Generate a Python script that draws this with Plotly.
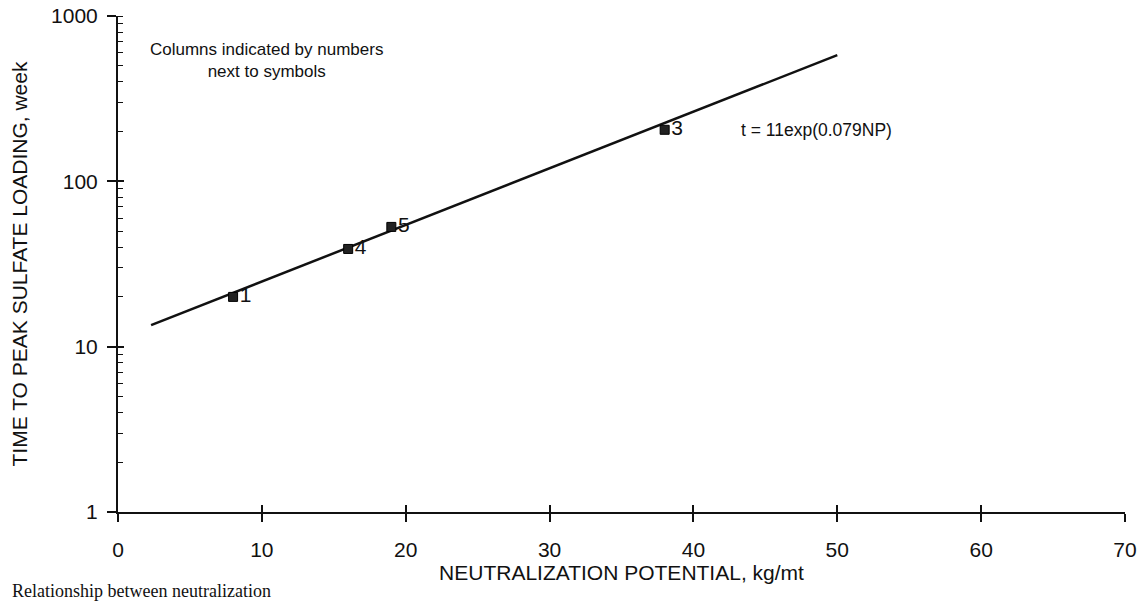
import plotly.graph_objects as go

# Data
np_values = [8, 16, 19, 38]          # neutralization potential, kg/mt
peak_weeks = [20, 39, 53, 205]       # time to peak sulfate loading, week
column_labels = ["1", "4", "5", "3"]

fit_x = [2.3, 50]                    # regression line endpoints
fit_y = [13.5, 580]

x_ticks = [0, 10, 20, 30, 40, 50, 60, 70]
y_ticks = [1, 10, 100, 1000]
y_tick_labels = ["1", "10", "100", "1000"]

FONT = "Liberation Sans, Arial, sans-serif"

fig = go.Figure()

fig.add_trace(go.Scatter(
    x=fit_x, y=fit_y, mode="lines",
    line=dict(color="#111111", width=2.5),
    showlegend=False, hoverinfo="skip",
))

fig.add_trace(go.Scatter(
    x=np_values, y=peak_weeks, mode="markers+text",
    text=column_labels, textposition="middle right",
    textfont=dict(family=FONT, size=21, color="#111111"),
    marker=dict(symbol="square", size=9, color="#222222",
                line=dict(color="#000000", width=1)),
    showlegend=False,
))

# helper trace so the overlaid tick axes are drawn
fig.add_trace(go.Scatter(x=[None], y=[None], xaxis="x2", yaxis="y2",
                         showlegend=False, hoverinfo="skip"))

axis_font = dict(family=FONT, size=21, color="#111111")

fig.update_layout(
    width=1140, height=607,
    margin=dict(l=118, r=15, t=16, b=95),
    paper_bgcolor="white", plot_bgcolor="white",
    font=dict(family=FONT, color="#111111"),
    xaxis=dict(
        range=[0, 70], tickvals=x_ticks, ticktext=[str(v) for v in x_ticks],
        showgrid=False, zeroline=False, automargin=False, ticklabeloverflow="allow",
        showline=True, linecolor="#111111", linewidth=2,
        ticks="outside", ticklen=8, tickwidth=1.5, tickcolor="#111111",
        tickfont=axis_font, ticklabelstandoff=10,
        title=dict(text="NEUTRALIZATION POTENTIAL, kg/mt", font=axis_font, standoff=5),
    ),
    yaxis=dict(
        type="log", range=[0, 3],
        tickvals=y_ticks, ticktext=y_tick_labels,
        showgrid=False, zeroline=False, automargin=False, ticklabeloverflow="allow",
        showline=True, linecolor="#111111", linewidth=2,
        ticks="outside", ticklen=9, tickwidth=1.5, tickcolor="#111111",
        minor=dict(ticks="inside", ticklen=5, tickwidth=1, tickcolor="#111111",
                   showgrid=False, dtick="D1"),
        tickfont=axis_font, ticklabelstandoff=5,
        title=dict(text="TIME TO PEAK SULFATE LOADING, week", font=axis_font, standoff=18),
    ),
    xaxis2=dict(
        overlaying="x", anchor="y2", side="bottom", range=[0, 70],
        tickvals=x_ticks, showticklabels=False, showgrid=False, zeroline=False,
        showline=False, ticks="inside", ticklen=7, tickwidth=1.5, tickcolor="#111111",
        automargin=False,
    ),
    yaxis2=dict(
        overlaying="y", anchor="x2", side="left", type="log", range=[0, 3],
        tickvals=y_ticks, showticklabels=False, showgrid=False, zeroline=False,
        showline=False, ticks="inside", ticklen=6, tickwidth=1.5, tickcolor="#111111",
        automargin=False,
    ),
    annotations=[
        dict(text="Columns indicated by numbers<br>next to symbols",
             xref="paper", yref="paper", x=0.147, y=0.911,
             xanchor="center", yanchor="middle", showarrow=False,
             font=dict(family=FONT, size=17, color="#111111")),
        dict(text="t = 11exp(0.079NP)",
             xref="paper", yref="paper", x=0.617, y=0.770,
             xanchor="left", yanchor="middle", showarrow=False,
             font=dict(family=FONT, size=17.5, color="#111111")),
        dict(text="Relationship between neutralization",
             xref="paper", yref="paper", x=-0.107, y=-0.183,
             xanchor="left", yanchor="bottom", showarrow=False,
             font=dict(family="Liberation Serif, serif", size=18, color="#111111")),
    ],
)

fig.write_html(
    "out.html",
    config={"displayModeBar": False},
    post_script="document.body.style.margin='0';document.body.style.overflow='hidden';",
)
